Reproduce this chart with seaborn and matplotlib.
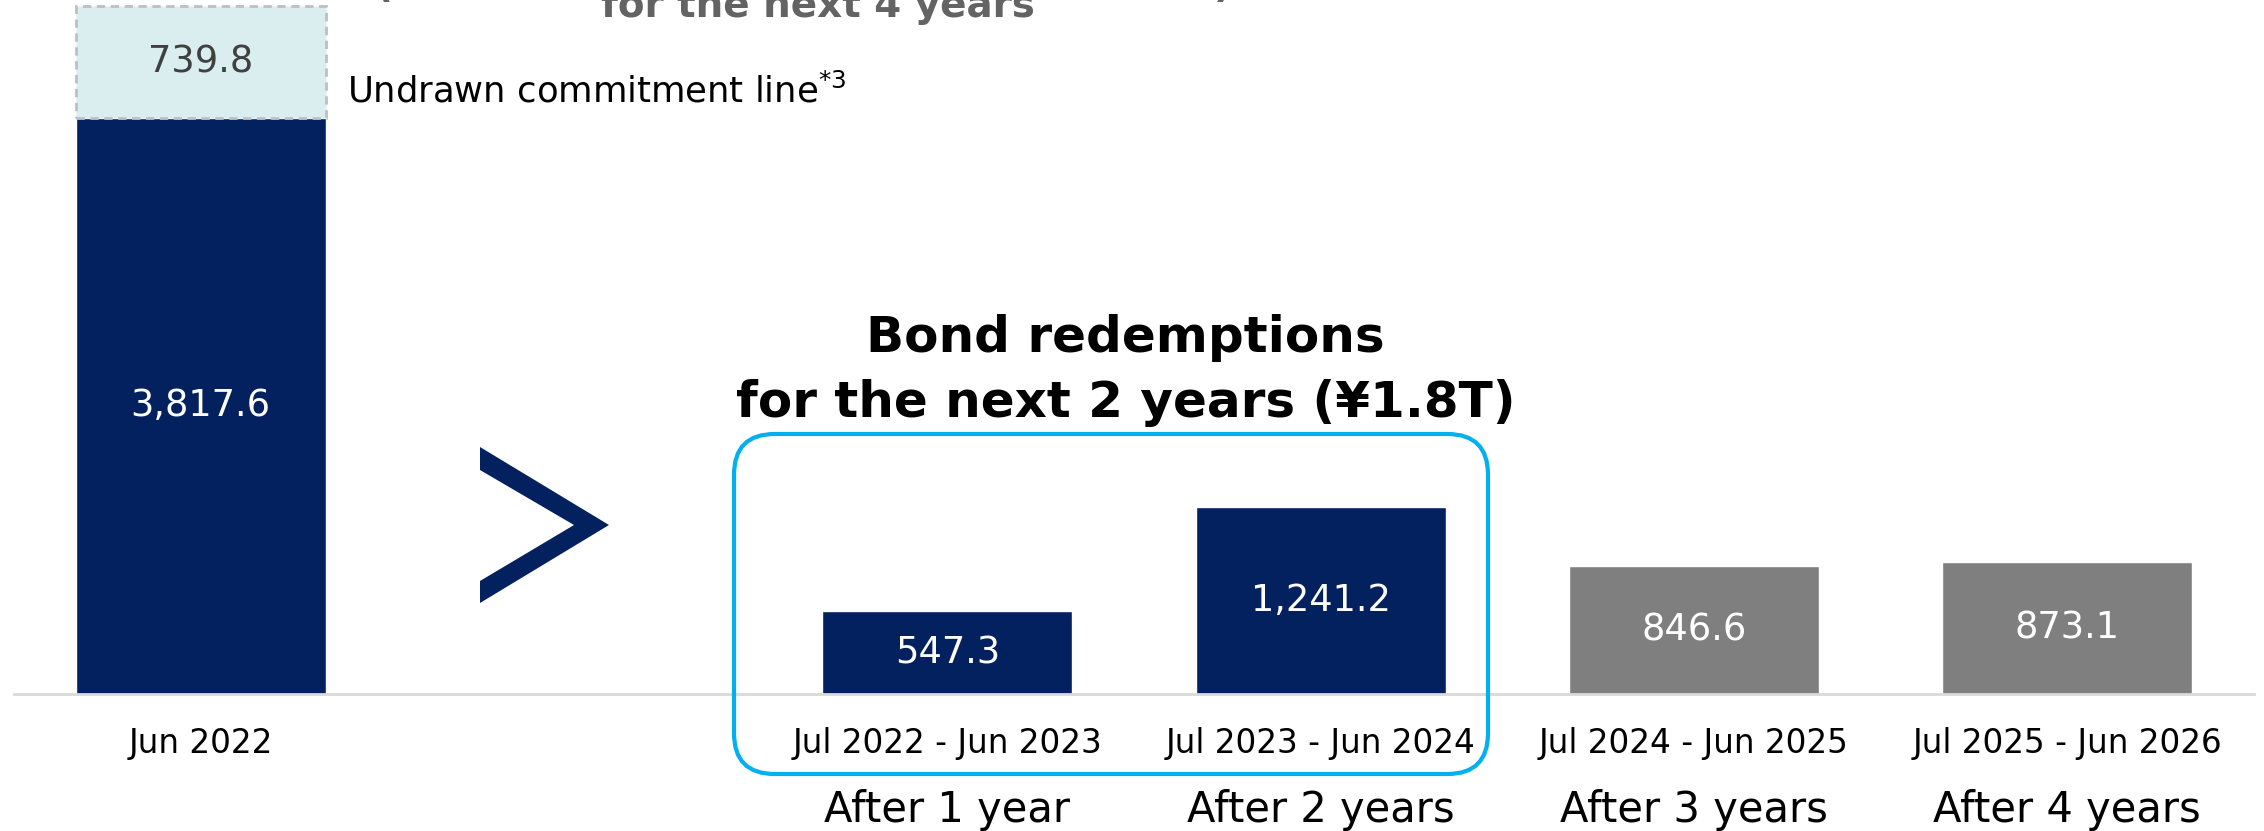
import numpy as np
import pandas as pd
import matplotlib
matplotlib.use('Agg')
import matplotlib.pyplot as plt
import seaborn as sns
from matplotlib.patches import FancyBboxPatch, Polygon
import matplotlib.transforms as mtransforms

sns.set_style('white')
plt.rcParams['font.family'] = ['DejaVu Sans']
plt.rcParams['text.color'] = 'black'

# Data (JPY billions)
periods = ['Jun 2022', 'Jul 2022 - Jun 2023', 'Jul 2023 - Jun 2024',
           'Jul 2024 - Jun 2025', 'Jul 2025 - Jun 2026']
amounts = [3817.6, 547.3, 1241.2, 846.6, 873.1]
commitment_line = 739.8
horizon_labels = ['After 1 year', 'After 2 years', 'After 3 years', 'After 4 years']

NAVY = '#03205f'
GRAY = '#7f7f7f'
bar_colors = [NAVY, NAVY, NAVY, GRAY, GRAY]

# empty slot between cash bar and redemptions (for the ">" sign)
order = [periods[0], ' '] + periods[1:]
df = pd.DataFrame({'period': periods, 'amount': amounts})
palette = dict(zip(periods, bar_colors))

W, H = 2264, 831
fig = plt.figure(figsize=(W / 100, H / 100), dpi=100)
ax = fig.add_axes([14 / W, 1 - 694 / H, 2240 / W, 694 / H])

bar_w = 0.67
sns.barplot(data=df, x='period', y='amount', hue='period', order=order,
            palette=palette, width=bar_w, saturation=1, legend=False, ax=ax)

# undrawn commitment line stacked on top of cash
ax.bar(0, commitment_line, bottom=amounts[0], width=bar_w, color='#daedef',
       edgecolor='#bfbfbf', linestyle=(0, (3, 2)), linewidth=2, zorder=3)

ax.set_xlim(-0.5, 5.5)
ax.set_ylim(0, 4599)
ax.set_xlabel('')
ax.set_ylabel('')
ax.set_yticks([])
ax.tick_params(axis='x', length=0, pad=24, labelsize=23.5, labelcolor='black')
sns.despine(ax=ax, left=True, top=True, right=True)
ax.spines['bottom'].set_color('#d9d9d9')
ax.spines['bottom'].set_linewidth(2)

# value labels
for p, v in zip(periods, amounts):
    ax.text(order.index(p), v / 2, f'{v:,.1f}', ha='center', va='center',
            color='white', fontsize=26.5)
ax.text(0, amounts[0] + commitment_line / 2, f'{commitment_line:,.1f}',
        ha='center', va='center', color='#404040', fontsize=26.5, zorder=4)

trans = mtransforms.blended_transform_factory(ax.transData, ax.transAxes)
ax.text(bar_w / 2 + 0.057, 0.853, 'Undrawn commitment line$^{*3}$',
        transform=trans, ha='left', va='baseline', fontsize=25.5)

# horizon labels under the period labels
for i, lab in enumerate(horizon_labels):
    ax.text(i + 2, -0.1844, lab, transform=trans, ha='center',
            va='baseline', fontsize=30)

# callout over the next two years
ax.text(2.477, 0.4928, 'Bond redemptions', transform=trans, ha='center',
        va='baseline', fontsize=36, fontweight='bold')
ax.text(2.477, 0.3991, 'for the next 2 years (¥1.8T)', transform=trans,
        ha='center', va='baseline', fontsize=36, fontweight='bold')

# header text, cut off by the top edge
ax.text(1.654, 0.9755, 'for the next 4 years', transform=trans, ha='center',
        va='baseline', fontsize=28, fontweight='bold', color='#636363')
ax.text(0.491, 1.004, '(', transform=trans, ha='center', va='baseline',
        fontsize=28, fontweight='bold', color='#636363')
ax.text(2.739, 1.004, ')', transform=trans, ha='center', va='baseline',
        fontsize=28, fontweight='bold', color='#636363')

# rounded box around the first two redemption years
box = FancyBboxPatch((734 / W, 1 - 774 / H), 754 / W, 340 / H,
                     boxstyle='round,pad=0,rounding_size=0.018',
                     mutation_aspect=W / H, transform=fig.transFigure,
                     fill=False, edgecolor='#00b0f0', linewidth=3)
fig.patches.append(box)

# ">" chevron
chev = np.array([(480, 447), (609, 525), (480, 603), (480, 581),
                 (574, 525), (480, 470)], dtype=float)
chev[:, 0] /= W
chev[:, 1] = 1 - chev[:, 1] / H
fig.patches.append(Polygon(chev, closed=True, transform=fig.transFigure,
                           facecolor=NAVY, edgecolor='none'))

fig.savefig('out.png', dpi=100)
